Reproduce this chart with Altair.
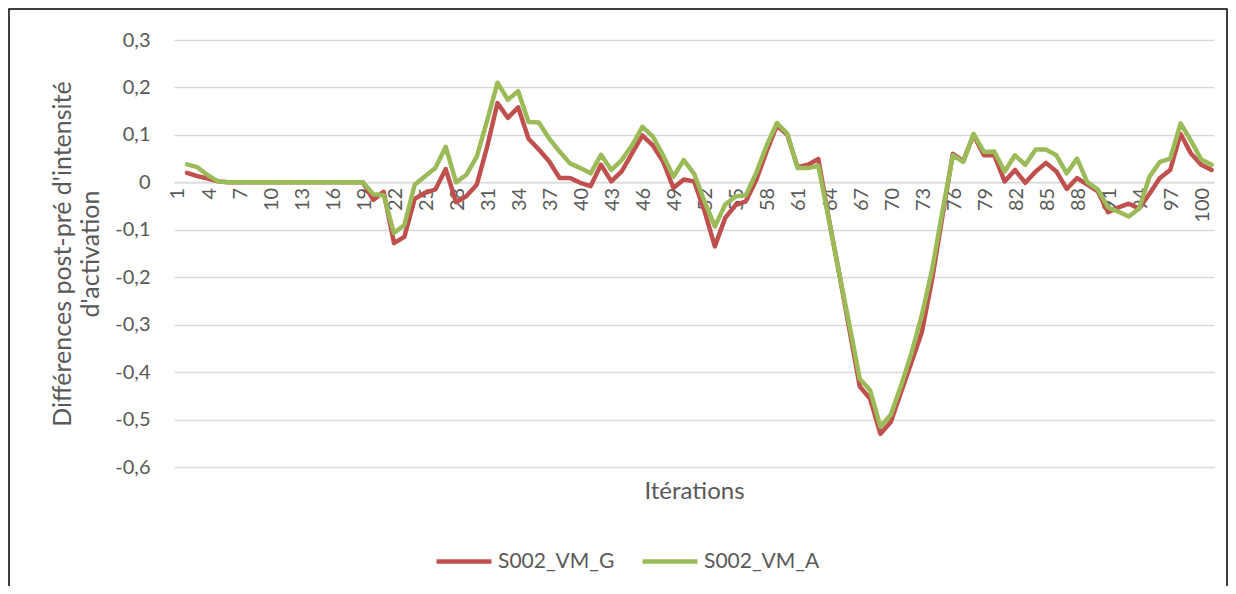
import altair as alt
import pandas as pd

iterations = list(range(1, 101))

s002_vm_g = [
    0.020, 0.013, 0.008, 0.002, 0.0, 0.0, 0.0, 0.0, 0.0, 0.0,
    0.0, 0.0, 0.0, 0.0, 0.0, 0.0, 0.0, 0.0, -0.037, -0.020,
    -0.128, -0.115, -0.035, -0.022, -0.015, 0.028, -0.042, -0.029, -0.005, 0.075,
    0.167, 0.136, 0.158, 0.092, 0.069, 0.044, 0.009, 0.009, -0.001, -0.008,
    0.037, 0.002, 0.023, 0.061, 0.099, 0.078, 0.044, -0.012, 0.006, 0.002,
    -0.060, -0.135, -0.075, -0.048, -0.040, 0.005, 0.065, 0.120, 0.100, 0.032,
    0.037, 0.049, -0.075, -0.190, -0.310, -0.430, -0.456, -0.530, -0.505, -0.442,
    -0.379, -0.316, -0.204, -0.070, 0.060, 0.045, 0.100, 0.057, 0.057, 0.002,
    0.026, -0.001, 0.023, 0.041, 0.023, -0.014, 0.009, -0.005, -0.019, -0.063,
    -0.053, -0.045, -0.055, -0.024, 0.009, 0.026, 0.102, 0.061, 0.037, 0.026,
]

s002_vm_a = [
    0.038, 0.032, 0.015, 0.002, 0.0, 0.0, 0.0, 0.0, 0.0, 0.0,
    0.0, 0.0, 0.0, 0.0, 0.0, 0.0, 0.0, 0.0, -0.025, -0.027,
    -0.107, -0.090, -0.005, 0.013, 0.030, 0.075, 0.000, 0.016, 0.054, 0.130,
    0.210, 0.174, 0.192, 0.127, 0.126, 0.092, 0.065, 0.040, 0.030, 0.019,
    0.058, 0.026, 0.047, 0.078, 0.117, 0.097, 0.057, 0.012, 0.047, 0.018,
    -0.040, -0.093, -0.047, -0.030, -0.027, 0.020, 0.077, 0.125, 0.103, 0.030,
    0.030, 0.035, -0.076, -0.190, -0.300, -0.414, -0.438, -0.515, -0.490, -0.428,
    -0.360, -0.280, -0.183, -0.060, 0.057, 0.043, 0.102, 0.064, 0.065, 0.023,
    0.057, 0.037, 0.069, 0.069, 0.057, 0.019, 0.050, 0.000, -0.015, -0.053,
    -0.062, -0.072, -0.055, 0.012, 0.043, 0.050, 0.124, 0.088, 0.048, 0.037,
]

series_names = ["S002_VM_G", "S002_VM_A"]
series_colors = ["#C0504D", "#9BBB59"]
y_ticks = [0.3, 0.2, 0.1, 0.0, -0.1, -0.2, -0.3, -0.4, -0.5, -0.6]
x_ticks = list(range(1, 101, 3))

df = pd.DataFrame({
    "iter": iterations + iterations,
    "val": s002_vm_g + s002_vm_a,
    "serie": [series_names[0]] * len(iterations) + [series_names[1]] * len(iterations),
})

FONT = "Lato"
TXT = "#595959"
GRID = "#D9D9D9"

PW, PH = 1040, 427

lines = alt.Chart(df).mark_line(
    strokeWidth=4.5, strokeCap="round", strokeJoin="round"
).encode(
    x=alt.X(
        "iter:Q",
        scale=alt.Scale(domain=[-0.256, 100.23], nice=False, zero=False),
        axis=alt.Axis(
            values=x_ticks, labelAngle=270, offset=-(PH * 2.0 / 3.0),
            grid=False, ticks=False, tickSize=0, domainColor=GRID, domainWidth=1.5,
            labelFont=FONT, labelFontSize=20, labelColor=TXT, labelPadding=5,
            labelOffset=-9, labelOverlap=False, labelFlush=False,
            title="Itérations", titleFont=FONT, titleFontSize=24,
            titleFontWeight="normal", titleColor=TXT,
            titleX=PW / 2, titleY=309, titleBaseline="middle", titleAlign="center",
        ),
    ),
    y=alt.Y(
        "val:Q",
        scale=alt.Scale(domain=[-0.6, 0.3], nice=False, zero=False),
        axis=alt.Axis(
            values=y_ticks, grid=True, gridColor=GRID, gridWidth=1.5,
            domain=False, ticks=False, tickSize=0,
            labelFont=FONT, labelFontSize=20, labelColor=TXT, labelPadding=24,
            labelExpr="datum.value == 0 ? '0' : replace(replace(format(datum.value, '.1f'), '.', ','), '\u2212', '-')",
            title=["Différences post-pré d'intensité", "d'activation"],
            titleFont=FONT, titleFontSize=25, titleFontWeight="normal", titleColor=TXT,
            titleAngle=270, titleX=-112, titleY=PH / 2, titleAlign="center",
            titleBaseline="middle", titleLineHeight=28,
        ),
    ),
    color=alt.Color(
        "serie:N",
        sort=series_names,
        scale=alt.Scale(domain=series_names, range=series_colors),
        legend=alt.Legend(
            title=None, orient="none", direction="horizontal",
            legendX=260, legendY=491.5, padding=0,
            symbolType="stroke", symbolSize=3025, symbolStrokeWidth=4.5,
            labelFont=FONT, labelFontSize=21, labelColor=TXT, labelOffset=4,
            columnPadding=18,
        ),
    ),
)

frame = alt.Chart(pd.DataFrame({"k": [0]})).mark_rect(
    fill=None, stroke="#000000", strokeWidth=1.5, clip=False
).encode(
    x=alt.value(-165), x2=alt.value(1053), y=alt.value(-31), y2=alt.value(600)
)

chart = alt.layer(lines, frame).properties(
    width=PW, height=PH,
    autosize=alt.AutoSizeParams(type="none"),
    padding={"left": 166, "top": 32, "right": 14, "bottom": 119},
    background="white",
).configure_view(stroke=None)

chart.save("out.html", embed_options={"renderer": "svg", "actions": False})
